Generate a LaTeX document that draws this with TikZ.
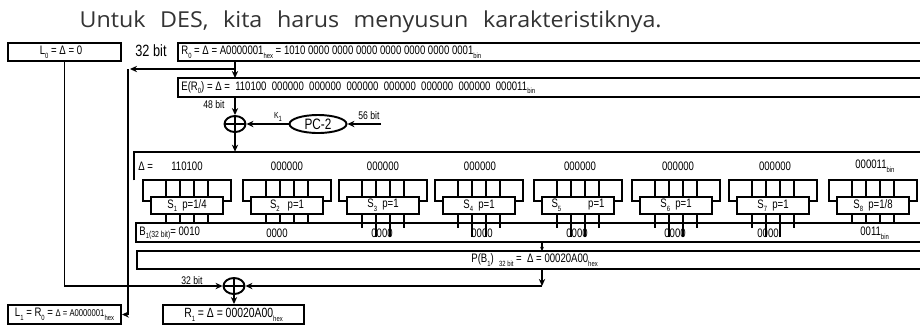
\documentclass[tikz,border=0pt]{standalone}
\usepackage{fontspec}
\setmainfont{Liberation Sans}
\newfontfamily\narrowfont[FakeStretch=0.78]{Liberation Sans}
\newfontfamily\titlefont[FakeStretch=1.06]{Open Sans}
\usetikzlibrary{arrows.meta,shapes.geometric,fit}

% small lowered index text (hex, bin, 0, 1 ...)
\newcommand\sbs[1]{\raisebox{-0.55ex}{\fontsize{4.3}{4.3}\selectfont #1}}
\newcommand\nf[1]{\narrowfont\fontsize{#1}{#1}\selectfont}
\newcommand\wsp{\hspace{8.3pt}}

\begin{document}
\begin{tikzpicture}[x=0.02cm,y=-0.02cm,
  bar/.style={draw, line width=1.3pt, inner sep=0pt},
  box/.style={draw, line width=1.1pt, inner sep=0pt},
  sbox/.style={draw, line width=1.1pt, inner sep=0pt, minimum width=1.44cm,
    minimum height=0.34cm, font=\nf{7}},
  txt/.style={inner sep=0pt, font=\nf{7}},
  small/.style={inner sep=0pt, font=\nf{6.3}},
  wire/.style={line width=0.85pt},
  arr/.style={wire, -{Stealth[length=4pt,width=3.6pt]}},
  tinyarr/.style={line width=0.6pt, -{Stealth[length=2.4pt,width=2.2pt]}},
  xor/.style={ellipse, draw, line width=1.1pt, inner sep=0pt,
    minimum width=0.42cm, minimum height=0.32cm,
    path picture={\draw[line width=0.9pt]
      (path picture bounding box.north) -- (path picture bounding box.south)
      (path picture bounding box.west) -- (path picture bounding box.east);}},
]
\fill[white] (0,0) rectangle (920,326);
\clip (0,0) rectangle (920,326);

% heading
\node[inner sep=0pt, anchor=base east, font=\titlefont\fontsize{12.5}{13}\selectfont,
  text={rgb,255:red,51;green,51;blue,51}] (title) at (662,27)
  {Untuk\wsp DES,\wsp kita\wsp harus\wsp menyusun\wsp karakteristiknya.};

% ---- round input ----
\node[box, fit={(8,43) (121,61)}] (l0) {};
\node[txt] (l0t) at (61,52) {L\sbs{0} = Δ = 0};
\node[inner sep=0pt, font=\nf{9.3}] (w32) at (151,51) {32 bit};

\node[bar, fit={(178,43) (960,61)}] (r0) {};
\node[txt, anchor=west] (r0t) at (181,52)
  {R\sbs{0} = Δ = A0000001\sbs{hex} = 1010 0000 0000 0000 0000 0000 0000 0001\sbs{bin}};

\node[bar, fit={(178,78) (960,97)}] (e) {};
\node[txt, anchor=west] (et) at (181,87.5)
  {E(R\sbs{0}) = Δ = \ 110100 \ 000000 \ 000000 \ 000000 \ 000000 \ 000000 \ 000000 \ 000011\sbs{bin}};

\coordinate (r0tap) at (235,61);
\coordinate (etop) at (235,78);
\coordinate (rsplit) at (235,69);
\coordinate (lhook) at (130,69);
\coordinate (ltop) at (128,69);
\draw[arr] (r0tap) -- (etop);
\draw[arr] (rsplit) -- (lhook);

% ---- key mixing ----
\coordinate (etap) at (235,97);
\node[xor] (x1) at (235,124) {};
\node[small] (w48) at (214,105) {48 bit};
\draw[arr] (etap) -- (x1.north);

\node[ellipse, draw, line width=1.1pt, inner sep=0pt, minimum width=1.14cm,
  minimum height=0.36cm, font=\nf{8.6}] (pc2) at (318,124) {PC-2};
\draw[arr] (pc2.west) -- (x1.east);
\node[inner sep=0pt, font=\nf{5}] (k1) at (278,117) {K\sbs{1}};
\coordinate (k56) at (381,124);
\draw[arr] (k56) -- (pc2.east);
\node[small] (w56) at (369,116) {56 bit};

% ---- S-box input word ----
\node[inner sep=0pt, fit={(134,152) (960,180)}] (dbar) {};
\draw[line width=1.3pt] (dbar.south west) -- (dbar.north west) -- (dbar.north east);
\draw[arr] (x1.south) -- (x1.south |- dbar.north);
\node[txt, anchor=west] (dl) at (138,166) {Δ =};
\node[txt] (g1) at (187,166) {110100};
\node[txt] (g2) at (287,166) {000000};
\node[txt] (g3) at (383,166) {000000};
\node[txt] (g4) at (480,166) {000000};
\node[txt] (g5) at (580,166) {000000};
\node[txt] (g6) at (678,166) {000000};
\node[txt] (g7) at (775,166) {000000};
\node[txt, anchor=west] (g8) at (855,166.5) {000011\sbs{bin}};

% ---- S-boxes ----
\node[sbox] (s1) at (187,205.5) {S\sbs{1}\ \ p=1/4};
\node[sbox] (s2) at (287,205.5) {S\sbs{2}\ \ \ p=1};
\node[sbox] (s3) at (383,205.5) {S\sbs{3}\ \ p=1};
\node[sbox] (s4) at (479,205.5) {S\sbs{4}\ \ p=1};
\node[sbox] (s5) at (578,205.5) {S\sbs{5}\hspace{2.2em}p=1};
\node[sbox] (s6) at (676,205.5) {S\sbs{6}\ \ p=1};
\node[sbox] (s7) at (773,205.5) {S\sbs{7}\ \ p=1};
\node[sbox] (s8) at (873,205.5) {S\sbs{8}\ \ p=1/8};

% six input wires per S-box, the outer two bent into its sides
\foreach \c [count=\i] in {187,287,383,479,578,676,773,873} {
  \draw[line width=1.1pt] (s\i.west |- 0,201) -- (\c-44,201) -- (\c-44,180)
    -- (\c+44,180) -- (\c+44,201) -- (s\i.east |- 0,201);
  \foreach \d in {-21,-7,7,21}
    \draw[wire] (\c+\d,180) -- (s\i.north -| \c+\d,0);
}
% four output wires per S-box
\foreach \i/\c in {1/187,2/287,8/873}
  \foreach \d in {-21,-7,7,21}
    \draw[wire] (s\i.south -| \c+\d,0) -- (\c+\d,223);
\foreach \i/\c in {3/383,4/479,5/578,6/676,7/773} {
  \foreach \d in {-21,21}
    \draw[wire] (s\i.south -| \c+\d,0) -- (\c+\d,228);
  \foreach \d in {-7,7}
    \draw[wire] (s\i.south -| \c+\d,0) -- (\c+\d,237);
}

% ---- S-box output word ----
\node[box, fit={(136,223) (960,242)}] (b1) {};
\node[txt, anchor=west] (b1t) at (139,233)
  {B\sbs{1}\raisebox{-0.4ex}{\fontsize{5}{5}\selectfont(32 bit)}= 0010};
\node[txt] (o2) at (277,233) {0000};
\node[txt] (o3) at (382,233) {0000};
\node[txt] (o4) at (482,233) {0000};
\node[txt] (o5) at (577,233) {0000};
\node[txt] (o6) at (675,233) {0000};
\node[txt] (o7) at (768,233) {0000};
\node[txt, anchor=west] (o8) at (860,233.5) {0011\sbs{bin}};

% ---- permutation ----
\node[box, fit={(137,251) (960,269)}] (p) {};
\node[txt, anchor=west] (pt) at (471,260)
  {P(B\sbs{1})\ \ \sbs{32 bit} = \ Δ = 00020A00\sbs{hex}};
\coordinate (b1tap) at (542,242);
\coordinate (ptop) at (542,251);
\draw[tinyarr] (b1tap) -- (ptop);

\node[xor] (x2) at (234,286) {};
\coordinate (ptap) at (542,269);
\coordinate (pdrop) at (542,286);
\draw[arr] (ptap) -- (pdrop);
\draw[arr] (pdrop) -- (x2.east);
\draw[arr] (l0.south) |- (x2.west);
\node[small] (w32b) at (192,281) {32 bit};

% ---- round output ----
\node[box, fit={(8,305) (121,324)}] (l1) {};
\node[txt] (l1t) at (l1.center)
  {L\sbs{1} = R\sbs{0} = {\fontsize{5.6}{6}\selectfont Δ = A0000001}\sbs{hex}};
\node[box, fit={(163,305) (304,324)}] (r1) {};
\node[txt, font=\nf{7.6}] (r1t) at (r1.center) {R\sbs{1} = Δ = 00020A00\sbs{hex}};
\draw[arr] (ltop) |- (l1.east);
\draw[arr] (x2.south) -- (x2.south |- r1.north);
\end{tikzpicture}
\end{document}
